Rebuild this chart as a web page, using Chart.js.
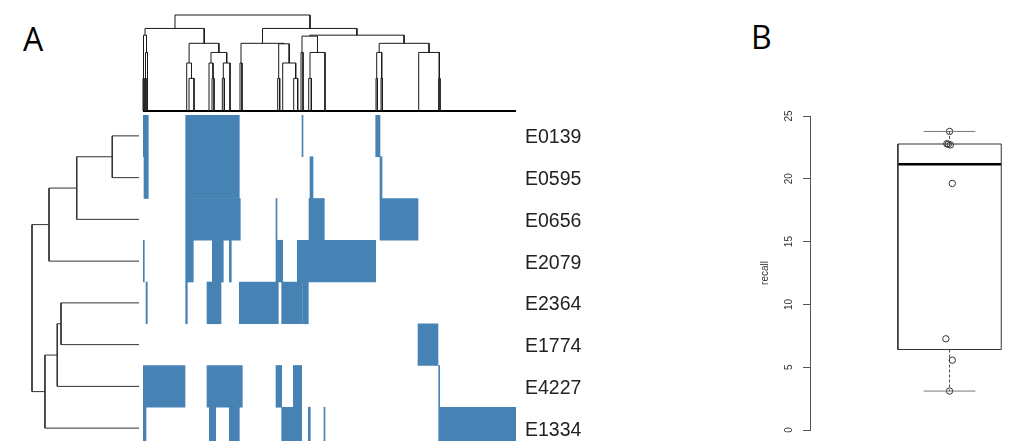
<!DOCTYPE html>
<html lang="en">
<head>
<meta charset="UTF-8">
<title>Heatmap with dendrograms and recall boxplot</title>
<script src="https://cdn.jsdelivr.net/npm/chart.js"></script>
<style>
  html, body { margin: 0; padding: 0; background: #fff; }
  body { width: 1014px; height: 441px; overflow: hidden; position: relative; font-family: 'Liberation Sans', Arial, sans-serif; }
  .panel { position: absolute; }
  .tag { position: absolute; font-family: 'Open Sans', sans-serif; font-size: 32px; line-height: 1; color: #000; }
</style>
</head>
<body>

<div class="tag" style="left:23px;top:23px">A</div>
<div class="tag" style="left:751px;top:21px">B</div>

<div class="panel" style="left:133px;top:5px;width:393px;height:112px"><canvas id="topTree"></canvas></div>
<div class="panel" style="left:0;top:115px;width:150px;height:334px"><canvas id="leftTree"></canvas></div>
<div class="panel" style="left:143px;top:115px;width:483px;height:334px"><canvas id="heatmap"></canvas></div>
<div class="panel" style="left:740px;top:106px;width:274px;height:334px"><canvas id="recallBox"></canvas></div>

<script>
// ---- panel A: heatmap rows and blocks (column positions 0..373) ----
const rowLabels = ['E0139', 'E0595', 'E0656', 'E2079', 'E2364', 'E1774', 'E4227', 'E1334'];
const colSpan = [0, 373];

const blocksE0139 = [[0.3, 5.3], [42.7, 96.3], [159, 160], [232.7, 237]];
const blocksE0595 = [[1, 5.3], [42.7, 96.3], [167, 170], [237, 239]];
const blocksE0656 = [[42.7, 97.3], [133, 134], [166, 181.3], [237, 275]];
const blocksE2079 = [[0.3, 1.3], [42.7, 50.3], [69.3, 80.3], [86.3, 88.3], [133, 139.7], [154.3, 232.7]];
const blocksE2364 = [[3, 4.3], [42.7, 44.3], [64, 78], [96.3, 135.3], [138.7, 159.3], [159.7, 165.3]];
const blocksE1774 = [[275, 295]];
const blocksE4227 = [[0.3, 42], [64, 99.3], [133, 138.7], [150.3, 158.7], [295.7, 296.7]];
const blocksE1334 = [[0.3, 3], [66.3, 72.7], [86.3, 96.3], [138.7, 158.7], [165.3, 167.3], [181, 182], [295.7, 372.7]];
const heatBlocks = [blocksE0139, blocksE0595, blocksE0656, blocksE2079, blocksE2364, blocksE1774, blocksE4227, blocksE1334];

// column dendrogram: [left x, right x, merge height, left child height, right child height]
const topMerges = [
  [32, 167, 100, 86, 86],
  [2, 61.2, 86, 79, 70.5],
  [0.5, 3.5, 79, 34, 61],
  [2.5, 4.5, 61, 34, 0],
  [0, 1, 34, 0, 0],
  [2, 3, 34, 0, 0],
  [46.1, 75.85, 70.5, 50, 61],
  [43.7, 48.5, 50, 0, 34],
  [46, 51, 34, 0, 0],
  [68, 83.7, 61, 50, 50],
  [66, 70, 50, 0, 34],
  [69, 71, 34, 0, 0],
  [80.3, 87, 50, 34, 0],
  [79.3, 81.3, 34, 0, 0],
  [119.5, 213.9, 86, 70.5, 79],
  [98, 141, 70.5, 50, 70],
  [97, 99, 50, 0, 0],
  [135.7, 146.2, 70, 34, 50],
  [134.7, 136.7, 34, 0, 0],
  [139.7, 152.7, 50, 0, 34],
  [150.7, 154.7, 34, 0, 0],
  [166.75, 261.1, 79, 78, 70.5],
  [159, 174.5, 78, 61, 61],
  [158, 160, 61, 0, 0],
  [167, 182, 61, 34, 0],
  [165.7, 168.3, 34, 0, 0],
  [236.2, 286, 70.5, 61, 61],
  [233.7, 238.7, 61, 34, 34],
  [233, 234.4, 34, 0, 0],
  [238, 239.4, 34, 0, 0],
  [275.7, 296.3, 61, 0, 34],
  [295.6, 297, 34, 0, 0]
];

// row dendrogram, hclust style: negative = row (1-based), positive = earlier merge
const leftMerges = [
  [-1, -2, 25],
  [1, -3, 58.2],
  [2, -4, 84.1],
  [-5, -6, 72.9],
  [4, -7, 76.4],
  [5, -8, 87.9],
  [3, 6, 100]
];

// ---- panel B: recall values and the horizontal jitter of their points ----
const recall = [23.77, 22.79, 22.75, 22.70, 19.63, 7.26, 5.56, 3.10];
const recallJitter = [0, -0.0105, -0.005, 0.003, 0.0105, -0.0143, 0.0105, 0];

const ink = '#1a1a1a';
const quiet = {
  responsive: true,
  maintainAspectRatio: false,
  animation: false,
  events: [],
  plugins: { legend: { display: false }, tooltip: { enabled: false } }
};

function seg(points, width, color, dash) {
  return { data: points, showLine: true, pointRadius: 0, borderWidth: width || 1,
           borderColor: color || ink, borderDash: dash || [], tension: 0, clip: false, fill: false };
}

// no extra room for the first/last tick label: keeps rows and values on the reference grid
function noEndPad(s) { s.paddingTop = 0; s.paddingBottom = 0; }

// top dendrogram
const topSets = topMerges.map(([a, b, h, ha, hb]) =>
  seg([{ x: a, y: ha }, { x: a, y: h }, { x: b, y: h }, { x: b, y: hb }]));
topSets.push(seg([{ x: colSpan[0], y: 0 }, { x: colSpan[1], y: 0 }], 2, '#000'));

new Chart(document.getElementById('topTree'), {
  type: 'scatter',
  data: { datasets: topSets },
  options: {
    ...quiet,
    layout: { padding: { left: 10, right: 10, top: 10, bottom: 6 } },
    scales: {
      x: { type: 'linear', display: false, min: colSpan[0], max: colSpan[1] },
      y: { type: 'linear', display: false, min: 0, max: 100 }
    }
  }
});

// left dendrogram
const leftPos = [], leftH = [];
const node = r => r < 0 ? { p: -r - 1, h: 0 } : { p: leftPos[r - 1], h: leftH[r - 1] };
const leftSets = leftMerges.map(([a, b, h], i) => {
  const A = node(a), B = node(b);
  leftPos[i] = (A.p + B.p) / 2;
  leftH[i] = h;
  return seg([{ x: A.h, y: A.p }, { x: h, y: A.p }, { x: h, y: B.p }, { x: B.h, y: B.p }], 1, '#333');
});

new Chart(document.getElementById('leftTree'), {
  type: 'scatter',
  data: { datasets: leftSets },
  options: {
    ...quiet,
    layout: { padding: { left: 32, right: 11, top: 0, bottom: 0 } },
    scales: {
      x: { type: 'linear', display: false, min: 0, max: 100, reverse: true },
      y: { type: 'linear', display: false, min: -0.5, max: rowLabels.length - 0.5, reverse: true }
    }
  }
});

// heatmap as floating horizontal bars
const maxBlocks = Math.max(...heatBlocks.map(r => r.length));
const heatSets = [];
for (let k = 0; k < maxBlocks; k++) {
  heatSets.push({
    data: heatBlocks.map(r => r[k] || null),
    backgroundColor: '#4682b4',
    borderWidth: 0,
    grouped: false,
    barPercentage: 1,
    categoryPercentage: 1
  });
}

new Chart(document.getElementById('heatmap'), {
  type: 'bar',
  data: { labels: rowLabels, datasets: heatSets },
  options: {
    ...quiet,
    indexAxis: 'y',
    layout: { padding: 0 },
    scales: {
      x: { type: 'linear', display: false, min: colSpan[0], max: colSpan[1] },
      y: {
        position: 'right',
        grid: { display: false },
        border: { display: false },
        ticks: { color: '#222', padding: 1, labelOffset: 2, font: { family: "'Liberation Sans', Arial, sans-serif", size: 19.5 } },
        afterFit: s => { s.width = 110; noEndPad(s); }
      }
    }
  }
});

// boxplot of recall (Tukey five-number summary, like R's boxplot)
function fivenum(v) {
  const s = [...v].sort((a, b) => a - b), n = s.length;
  const n4 = Math.floor((n + 3) / 2) / 2;
  const d = [1, n4, (n + 1) / 2, n + 1 - n4, n];
  return d.map(i => 0.5 * (s[Math.floor(i) - 1] + s[Math.ceil(i) - 1]));
}
const [lo, q1, med, q3, hi] = fivenum(recall);
const boxL = 0.8, boxR = 1.2, capL = 0.9, capR = 1.1;

const boxSets = [
  seg([{ x: 1, y: q3 }, { x: 1, y: hi }], 1, '#444', [3, 2]),
  seg([{ x: 1, y: q1 }, { x: 1, y: lo }], 1, '#444', [3, 2]),
  seg([{ x: capL, y: hi }, { x: capR, y: hi }], 1, '#777'),
  seg([{ x: capL, y: lo }, { x: capR, y: lo }], 1, '#777'),
  seg([{ x: boxL, y: q1 }, { x: boxR, y: q1 }, { x: boxR, y: q3 }, { x: boxL, y: q3 }, { x: boxL, y: q1 }], 1, '#333'),
  seg([{ x: boxL, y: med }, { x: boxR, y: med }], 2.5, '#000'),
  {
    data: recall.map((v, i) => ({ x: 1 + recallJitter[i], y: v })),
    showLine: false, pointRadius: 3.2, pointBorderWidth: 1,
    pointBorderColor: '#333', pointBackgroundColor: 'rgba(0,0,0,0)', clip: false
  }
];

new Chart(document.getElementById('recallBox'), {
  type: 'scatter',
  data: { datasets: boxSets },
  options: {
    ...quiet,
    layout: { padding: { left: 0, right: 0, top: 10, bottom: 10 } },
    scales: {
      x: { type: 'linear', display: false, min: 0.46, max: 1.23 },
      y: {
        type: 'linear', min: 0, max: 25,
        grid: { display: true, drawOnChartArea: false, drawTicks: true, tickLength: 7, color: '#555' },
        border: { display: true, color: '#555' },
        ticks: {
          stepSize: 5, minRotation: 90, maxRotation: 90, crossAlign: 'center', padding: 8,
          color: '#333', font: { family: "'Liberation Sans', Arial, sans-serif", size: 10 }
        },
        title: {
          display: true, text: 'recall', color: '#333', padding: { top: 19, bottom: 0 },
          font: { family: "'Liberation Sans', Arial, sans-serif", size: 10 }
        },
        afterFit: s => { s.width = 70; noEndPad(s); }
      }
    }
  }
});
</script>

</body>
</html>
